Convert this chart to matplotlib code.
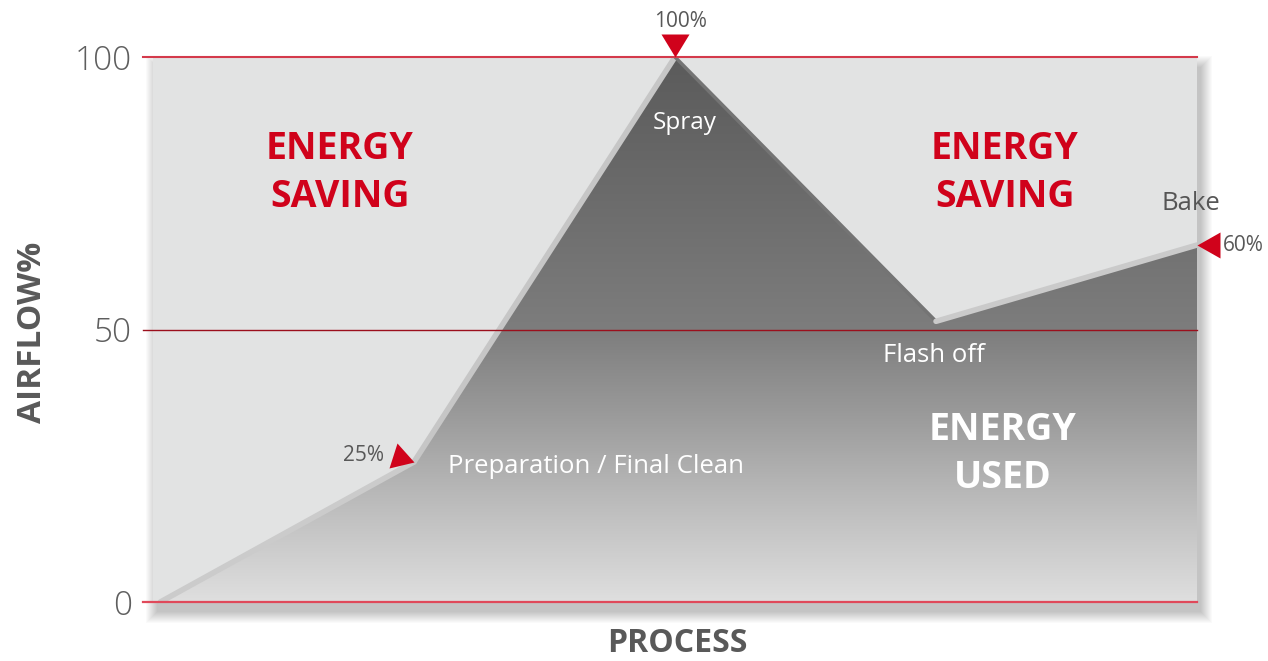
import numpy as np
import matplotlib.pyplot as plt
from matplotlib.path import Path
from matplotlib.patches import Polygon, Rectangle
from matplotlib.colors import LinearSegmentedColormap

plt.rcParams['font.family'] = ['Open Sans', 'DejaVu Sans']

# process position across the chart (0-100) and airflow in %
process_x = [0.7, 25, 50, 75, 100]
airflow = [0, 25.7, 100, 51.5, 65.5]

y_ticks = [0, 50, 100]
y_tick_labels = ["0", "50", "100"]

stage_names = ["Preparation / Final Clean", "Spray", "Flash off", "Bake"]
marker_labels = ["25%", "100%", "60%"]

RED = "#d0021b"
GREY_TXT = "#585858"


def tri_marker(verts_px, dpi):
    # custom triangle marker whose tip sits on the data point
    verts = np.array(verts_px, dtype=float)
    size = 2 * np.abs(verts).max() * 72 / dpi
    path = Path(np.vstack([verts, verts[:1]]),
                [Path.MOVETO, Path.LINETO, Path.LINETO, Path.CLOSEPOLY])
    return path, size


def main():
    fig = plt.figure(figsize=(12.68, 6.61), dpi=100)
    ax = fig.add_axes([153 / 1268, 59 / 661, 1044 / 1268, 545 / 661])
    ax.set_facecolor("none")
    for s in ax.spines.values():
        s.set_visible(False)

    # soft drop shadow + panel
    pw, ph = 1 / 1044, 1 / 545
    for k in range(12):
        ax.add_patch(Rectangle(((4 - k) * pw, (-10 - k) * ph), 1 + 2 * k * pw, 1 + 2 * k * ph,
                               transform=ax.transAxes, facecolor="black", alpha=0.018,
                               edgecolor="none", zorder=0.2, clip_on=False))
    ax.add_patch(Rectangle((0, 0), 1, 1, transform=ax.transAxes, facecolor="#e2e3e3",
                           edgecolor="none", zorder=0.5, clip_on=False))

    # energy used area with vertical gradient
    poly_xy = list(zip(process_x, airflow)) + [(process_x[-1], 0), (process_x[0], 0)]
    poly = Polygon(poly_xy, closed=True, facecolor="none", edgecolor="none", zorder=2)
    ax.add_patch(poly)
    cmap = LinearSegmentedColormap.from_list("fill", [
        (0.0, "#dfdfdf"), (0.2, "#b8b8b8"), (0.35, "#999999"),
        (0.5, "#7d7d7d"), (0.75, "#6b6b6b"), (1.0, "#5b5b5b")])
    grad = np.linspace(0, 1, 256).reshape(-1, 1)
    im = ax.imshow(grad, extent=(0, 100, 0, 100), origin="lower", cmap=cmap,
                   aspect="auto", zorder=2)
    im.set_clip_path(poly)

    # bevel along the top edge
    edge_colors = ["#cbcbcb", "#c6c6c6", "#747474", "#cacaca"]
    edge_widths = [4, 4, 2.5, 4]
    for i, (c, w) in enumerate(zip(edge_colors, edge_widths)):
        ax.plot(process_x[i:i + 2], airflow[i:i + 2], color=c, lw=w,
                solid_capstyle="round", zorder=2.5)

    # horizontal red lines
    line_styles = {0: ("#e0495a", 1.6), 50: ("#9b0f1c", 1.0), 100: ("#d43a4b", 1.5)}
    for y in y_ticks:
        c, lw = line_styles[y]
        ax.axhline(y, xmin=-10 / 1044, xmax=1, color=c, lw=lw, zorder=3, clip_on=False)

    ax.set_xlim(0, 100)
    ax.set_ylim(0, 100)
    ax.set_xticks([])
    ax.set_yticks(y_ticks, y_tick_labels)
    ax.tick_params(axis="y", length=0, pad=15, labelsize=24, labelcolor="#5e5e5e")
    for lbl in ax.get_yticklabels():
        lbl.set_fontweight("light")

    # red triangle markers
    tri_25, s25 = tri_marker([(0, 0), (-17, 19), (-25, -6)], fig.dpi)
    tri_top, stop = tri_marker([(0, 0), (-14, 23), (14, 23)], fig.dpi)
    tri_end, send = tri_marker([(0, 0), (23, 13), (23, -13)], fig.dpi)
    for idx, (m, s) in zip([1, 2, 4], [(tri_25, s25), (tri_top, stop), (tri_end, send)]):
        ax.plot(process_x[idx], airflow[idx], marker=m, markersize=s, color=RED,
                markeredgewidth=0, linestyle="none", zorder=5, clip_on=False)

    # percentage labels next to markers
    ax.annotate(marker_labels[0], xy=(process_x[1], airflow[1]), xytext=(-30, 1),
                textcoords="offset pixels", ha="right", va="baseline",
                fontsize=15, color=GREY_TXT, zorder=6)
    ax.annotate(marker_labels[1], xy=(process_x[2], airflow[2]), xytext=(5, 30),
                textcoords="offset pixels", ha="center", va="baseline",
                fontsize=15, color=GREY_TXT, annotation_clip=False, zorder=6)
    ax.annotate(marker_labels[2], xy=(process_x[4], airflow[4]), xytext=(26, -6),
                textcoords="offset pixels", ha="left", va="baseline",
                fontsize=15, color=GREY_TXT, annotation_clip=False, zorder=6)

    # stage names
    stage_offsets = [(1, (34, -11), "left", "white"),
                     (2, (10, -72), "center", "white"),
                     (3, (-2, -41), "center", "white"),
                     (4, (-6, 35), "center", "#555555")]
    for name, (idx, off, ha, col) in zip(stage_names, stage_offsets):
        ax.annotate(name, xy=(process_x[idx], airflow[idx]), xytext=off,
                    textcoords="offset pixels", ha=ha, va="baseline",
                    fontsize=18.5 if idx != 2 else 17.5, color=col,
                    annotation_clip=False, zorder=6)

    # big region labels
    ax.text(17.9, 78.7, "ENERGY\nSAVING", ha="center", va="center", fontsize=27,
            fontweight="bold", color=RED, linespacing=1.33, zorder=6)
    ax.text(81.6, 78.7, "ENERGY\nSAVING", ha="center", va="center", fontsize=27,
            fontweight="bold", color=RED, linespacing=1.33, zorder=6)
    ax.text(81.4, 27.2, "ENERGY\nUSED", ha="center", va="center", fontsize=27,
            fontweight="bold", color="white", linespacing=1.33, zorder=6)

    # axis titles
    fig.text(33 / 1268, 1 - 332 / 661, "AIRFLOW%", rotation=90, ha="center", va="center",
             fontsize=24, fontweight="bold", color="#595959")
    fig.text(677 / 1268, 1 - 643 / 661, "PROCESS", ha="center", va="center",
             fontsize=23, fontweight="bold", color="#595959")

    fig.savefig("out.png", dpi=100)


if __name__ == "__main__":
    main()
